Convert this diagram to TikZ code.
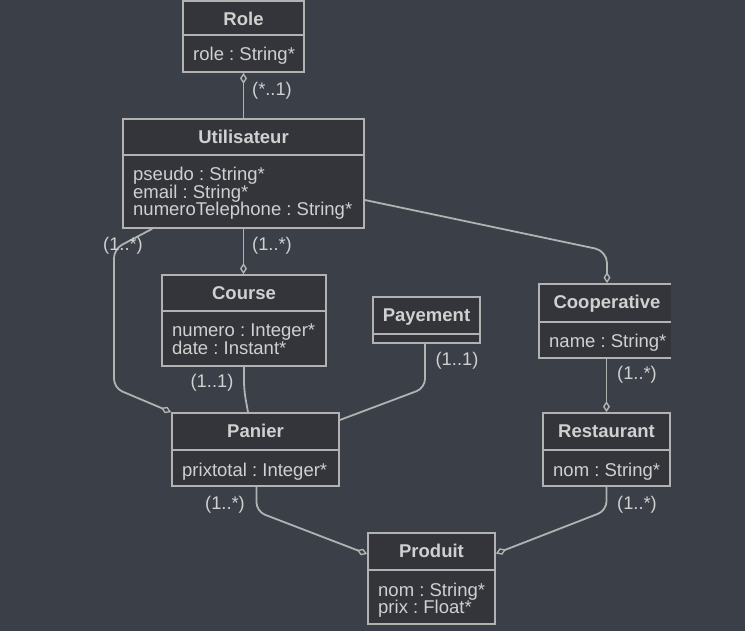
\documentclass[tikz,border=0pt]{standalone}
\usepackage{fontspec}
\setmainfont{Liberation Sans}
\usetikzlibrary{arrows.meta}
\frenchspacing
\definecolor{bgcol}{RGB}{59,63,71}
\definecolor{boxfill}{RGB}{51,53,59}
\definecolor{linecol}{RGB}{178,178,178}
\definecolor{textcol}{RGB}{208,208,208}
\tikzset{
  classbox/.style={rectangle, draw=linecol, fill=boxfill, line width=1.7pt, inner sep=0pt},
  boxline/.style={draw=linecol, line width=1.7pt},
  titletext/.style={text=textcol, inner sep=0pt, font=\frenchspacing\bfseries\fontsize{18.5pt}{18pt}\selectfont},
  attrtext/.style={text=textcol, inner sep=0pt, font=\frenchspacing\fontsize{18.5pt}{17pt}\selectfont},
  mult/.style={text=textcol, inner sep=0pt, font=\frenchspacing\fontsize{18.3pt}{17pt}\selectfont},
  conn/.style={draw=linecol, line width=1.8pt, rounded corners=9pt},
  aggend/.style={-{Diamond[fill=bgcol, length=11pt, width=7pt, line width=1.4pt]}},
  aggstart/.style={{Diamond[fill=bgcol, length=11pt, width=7pt, line width=1.4pt]}-}
}
% name, left, top, right, divider, bottom, title
\newcommand\umlclass[7]{%
  \node[classbox, minimum width={(#4-#2)*1pt}, minimum height={(#6-#3)*1pt}] (#1) at ({(#2+#4)/2},{(#3+#6)/2}) {};
  \draw[boxline] (#2,#5) -- (#4,#5);
  \node[titletext, anchor=base] (#1-title) at ({(#2+#4)/2},{#3+24.8}) {#7};
}
% name, left, divider, list of lines
\newcommand\umlattrs[4]{%
  \foreach \attrline [count=\k] in {#4} {
    \node[attrtext, anchor=base west] (#1-a\k) at ({#2+10},{#3+26+(\k-1)*17.2}) {\attrline};
  }
}
\begin{document}
\begin{tikzpicture}[x=1pt, y=-1pt]
\fill[bgcol] (0,0) rectangle (745,631);
\useasboundingbox (0,0) rectangle (745,631);

% classes
\umlclass{role}{183}{1}{304}{35}{72}{Role}
\umlattrs{role}{183}{35}{role : String*}

\umlclass{util}{123}{119}{364}{155}{228}{Utilisateur}
\umlattrs{util}{123}{155}{pseudo : String*, email : String*, numeroTelephone : String*}

\umlclass{course}{162}{275}{326}{311}{366}{Course}
\umlattrs{course}{162}{311}{numero : Integer*, date : Instant*}

\umlclass{pay}{373}{297}{480}{334}{343}{Payement}

\begin{scope}
  \clip (0,0) rectangle (670.8,631);
  \umlclass{coop}{539}{284}{675}{322}{358}{Cooperative}
  \umlattrs{coop}{539}{322}{name : String*}
\end{scope}

\umlclass{panier}{172}{413}{339}{450}{486}{Panier}
\umlattrs{panier}{172}{450}{prixtotal : Integer*}

\umlclass{resto}{543}{413}{670}{450}{486}{Restaurant}
\umlattrs{resto}{543}{450}{nom : String*}

\umlclass{produit}{368}{533}{495}{570}{624}{Produit}
\umlattrs{produit}{368}{570}{nom : String*, prix : Float*}

% connectors
\draw[conn, aggstart] (role.south) -- (util.north);
\draw[conn, aggend] (util.south) -- (util.south |- course.north);
\draw[conn, aggend] ([xshift=30pt]util.south west) -- (114,249) -- (114,388) -- (panier.north west);
\draw[conn, rounded corners=12pt, aggend] ([yshift=-26.5pt]util.east) -- (607,251) -- (coop.north);
\draw[conn] (course.south) -- (244,390) -- ([xshift=-7.5pt]panier.north);
\draw[conn] ([xshift=-1.5pt]pay.south) -- (425,388) -- ([yshift=29.5pt]panier.east);
\draw[conn, aggend] (coop.south -| resto.north) -- (resto.north);
\draw[conn, aggend] ([xshift=1pt]panier.south) -- (256.5,511.5) -- ([yshift=24.5pt]produit.west);
\draw[conn, aggend] (resto.south) -- (606.5,510.5) -- ([yshift=25pt]produit.east);

% multiplicities
\node[mult] (m1) at (272,91) {(*..1)};
\node[mult] (m2) at (272,246) {(1..*)};
\node[mult] (m3) at (123,246) {(1..*)};
\node[mult] (m4) at (212,383) {(1..1)};
\node[mult] (m5) at (457,361) {(1..1)};
\node[mult] (m6) at (637,375) {(1..*)};
\node[mult] (m7) at (225,505) {(1..*)};
\node[mult] (m8) at (637,505) {(1..*)};
\end{tikzpicture}
\end{document}
